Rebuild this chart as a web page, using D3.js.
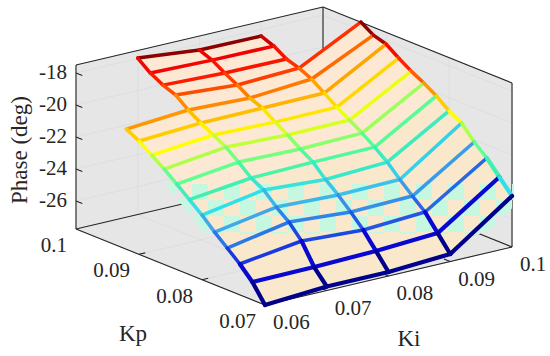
<!DOCTYPE html>
<html>
<head>
<meta charset="utf-8">
<script src="https://d3js.org/d3.v7.min.js"></script>
<style>
  body { margin: 0; background: #fff; }
  text { font-family: "Liberation Serif", serif; fill: #262626; }
</style>
</head>
<body>
<div class="chart"></div>
<script>
// phase (deg), one array per Ki, index = Kp row, null = no point
const kiValues = [0.06, 0.07, 0.08, 0.09, 0.1];
const kpValues = [0.07, 0.072, 0.074, 0.076, 0.078, 0.08, 0.082, 0.084, 0.086, 0.088, 0.09, 0.092, 0.094, 0.096, 0.098, 0.1];
const phaseKi06 = [-27.75, -26.63, -25.82, -25.14, -24.46, -23.71, -23.06, -22.41, -21.79, -21.23, -20.67, -20.24, null, null, null, null];
const phaseKi07 = [-27.5, -26.6, -25.29, -24.42, -23.8, -23.05, -22.62, -21.94, -21.32, -20.88, -20.45, -19.95, -19.33, -19.03, -18.59, -17.97];
const phaseKi08 = [-27.5, -26.5, -25.51, -24.7, -23.95, -23.3, -22.53, -22.03, -21.47, -20.98, -20.42, -20.11, -19.61, -19.18, -18.69, -18.38];
const phaseKi09 = [-27.28, -26.29, -25.29, -24.61, -23.89, -23.12, -22.5, -21.94, -21.44, -20.95, -20.39, -19.83, -19.46, -19.21, -18.72, -18.41];
const phaseKi10 = [-24.56, -23.69, -22.82, -22.14, -21.27, -20.83, -20.21, -19.72, -19.29, -18.79, -18.23, -17.99, -17.49, null, null, null];
const phase = [phaseKi06, phaseKi07, phaseKi08, phaseKi09, phaseKi10];

const kiTicks = [0.06, 0.07, 0.08, 0.09, 0.1];
const kpTicks = [0.07, 0.08, 0.09, 0.1];
const phaseTicks = [-26, -24, -22, -20, -18];

const w = 550, h = 356;
const svg = d3.select(".chart").append("svg").attr("width", w).attr("height", h).style("display", "block");

// oblique box: each data axis moves the point along its own screen direction
const kiX = d3.scaleLinear().domain([0.06, 0.1]).range([0, 247]);
const kiY = d3.scaleLinear().domain([0.06, 0.1]).range([0, -58]);
const kpX = d3.scaleLinear().domain([0.07, 0.1]).range([0, -189]);
const kpY = d3.scaleLinear().domain([0.07, 0.1]).range([0, -76]);
const zY = d3.scaleLinear().domain([-27.75, -17.5]).range([0, -164]);

const project = (ki, kp, z) => [265 + kiX(ki) + kpX(kp), 305 + kiY(ki) + kpY(kp) + zY(z)];
const zMin = -27.75, zMax = -17.5;

const line = d3.line();
const poly = pts => line(pts) + "Z";

// colour follows the Kp row, drifting a little with Ki (not on the two lowest rows)
const kpColor = d3.scaleLinear()
  .domain([0.07, 0.072, 0.074, 0.076, 0.078, 0.08, 0.082, 0.084, 0.088, 0.092, 0.096, 0.099, 0.1005])
  .range(["#00008c", "#0808d0", "#1838e0", "#2878e8", "#40a8e8", "#30e0e8", "#40f0b0", "#60ff90", "#ffff00", "#ff9800", "#ff2000", "#f00000", "#8c0000"])
  .clamp(true);
const edgeColor = (ki, kp) => kpColor(kp < 0.073 ? kp : kp + (ki - 0.06) * 0.05);

// jpeg-like block tint over the lower middle of the picture
const defs = svg.append("defs");
const blocks = defs.append("pattern")
  .attr("id", "blocks")
  .attr("patternUnits", "userSpaceOnUse")
  .attr("x", 0).attr("y", 24)
  .attr("width", 32).attr("height", 32);
blocks.selectAll("rect")
  .data([[0, 0], [16, 16]])
  .enter()
  .append("rect")
  .attr("x", d => d[0]).attr("y", d => d[1])
  .attr("width", 16).attr("height", 16)
  .attr("fill", "#c6f7e0");
defs.append("clipPath").attr("id", "blockBand")
  .append("rect").attr("x", 0).attr("y", 184).attr("width", 514).attr("height", 50);

// walls and floor
const corners = {
  floor: [[0.06, 0.07], [0.1, 0.07], [0.1, 0.1], [0.06, 0.1]].map(d => project(d[0], d[1], zMin)),
  left: [[0.06, zMin], [0.1, zMin], [0.1, zMax], [0.06, zMax]].map(d => project(d[0], 0.1, d[1])),
  right: [[0.07, zMin], [0.1, zMin], [0.1, zMax], [0.07, zMax]].map(d => project(0.1, d[0], d[1]))
};
svg.selectAll("path.wall")
  .data(Object.values(corners))
  .enter()
  .append("path")
  .attr("class", "wall")
  .attr("d", poly)
  .attr("fill", "#e6e6e6")
  .attr("stroke", "#e6e6e6");

// grid lines on the walls
const gridSegs = [];
kiTicks.forEach(k => {
  gridSegs.push([project(k, 0.07, zMin), project(k, 0.1, zMin)]);
  gridSegs.push([project(k, 0.1, zMin), project(k, 0.1, zMax)]);
});
kpTicks.forEach(k => {
  gridSegs.push([project(0.06, k, zMin), project(0.1, k, zMin)]);
  gridSegs.push([project(0.1, k, zMin), project(0.1, k, zMax)]);
});
phaseTicks.forEach(z => {
  gridSegs.push([project(0.06, 0.1, z), project(0.1, 0.1, z)]);
  gridSegs.push([project(0.1, 0.1, z), project(0.1, 0.07, z)]);
});
svg.selectAll("path.grid")
  .data(gridSegs)
  .enter()
  .append("path")
  .attr("class", "grid")
  .attr("d", line)
  .attr("fill", "none")
  .attr("stroke", "#dcdcdc")
  .attr("stroke-width", 0.8);

// back box lines, drawn before the surface covers them
const boxSegs = [
  [project(0.06, 0.1, zMin), project(0.1, 0.1, zMin)],
  [project(0.1, 0.1, zMin), project(0.1, 0.07, zMin)],
  [project(0.1, 0.1, zMin), project(0.1, 0.1, zMax)],
  [project(0.06, 0.1, zMax), project(0.1, 0.1, zMax)],
  [project(0.1, 0.1, zMax), project(0.1, 0.07, zMax)],
  [project(0.1, 0.07, zMax), project(0.1, 0.07, zMin)],
  [project(0.06, 0.1, zMax), project(0.06, 0.1, zMin)],
  [project(0.06, 0.1, zMin), project(0.06, 0.07, zMin)],
  [project(0.06, 0.07, zMin), project(0.1, 0.07, zMin)]
];
svg.selectAll("path.box")
  .data(boxSegs)
  .enter()
  .append("path")
  .attr("class", "box")
  .attr("d", line)
  .attr("fill", "none")
  .attr("stroke", "#262626")
  .attr("stroke-width", 1.1);

// ticks
const tickSegs = [];
phaseTicks.forEach(z => {
  tickSegs.push([project(0.06, 0.1, z), project(0.06, 0.099, z)]);
});
kpTicks.slice(1, 3).forEach(k => {
  tickSegs.push([project(0.06, k, zMin), project(0.061, k, zMin)]);
});
kiTicks.slice(1, 4).forEach(k => {
  tickSegs.push([project(k, 0.07, zMin), project(k, 0.071, zMin)]);
});
svg.selectAll("path.tick")
  .data(tickSegs)
  .enter()
  .append("path")
  .attr("class", "tick")
  .attr("d", line)
  .attr("fill", "none")
  .attr("stroke", "#262626")
  .attr("stroke-width", 1.1);

// surface faces and mesh edges, back to front
const faces = [];
const edges = [];
for (let r = kpValues.length - 1; r >= 0; r--) {
  for (let c = kiValues.length - 1; c >= 0; c--) {
    const p = (cc, rr) => project(kiValues[cc], kpValues[rr], phase[cc][rr]);
    const has = (cc, rr) => cc < kiValues.length && rr < kpValues.length && phase[cc][rr] !== null;
    if (!has(c, r)) continue;
    if (has(c + 1, r) && has(c, r + 1) && has(c + 1, r + 1)) {
      faces.push({ pts: [p(c, r), p(c + 1, r), p(c + 1, r + 1), p(c, r + 1)], r: r });
    }
    if (has(c + 1, r)) {
      edges.push({ pts: [p(c, r), p(c + 1, r)], color: edgeColor(kiValues[c], kpValues[r]), r: r });
    }
    if (has(c, r + 1)) {
      // the far right edge runs ahead of the other columns in the colour map
      const color = c === kiValues.length - 1 ? kpColor(kpValues[r] + 0.01) : edgeColor(kiValues[c], kpValues[r]);
      edges.push({ pts: [p(c, r), p(c, r + 1)], color: color, r: r });
    }
  }
}

svg.selectAll("path.face")
  .data(faces)
  .enter()
  .append("path")
  .attr("class", "face")
  .attr("d", d => poly(d.pts))
  .attr("fill", d => (d.r < 6 ? "#f9e8cb" : "#fde9d3"))
  .attr("stroke", d => (d.r < 6 ? "#f9e8cb" : "#fde9d3"))
  .attr("stroke-width", 0.5);

svg.append("g")
  .attr("clip-path", "url(#blockBand)")
  .selectAll("path")
  .data(faces)
  .enter()
  .append("path")
  .attr("d", d => poly(d.pts))
  .attr("fill", "url(#blocks)")
  .attr("stroke", "url(#blocks)")
  .attr("stroke-width", 18);

svg.selectAll("path.edge")
  .data(edges)
  .enter()
  .append("path")
  .attr("class", "edge")
  .attr("d", d => line(d.pts))
  .attr("fill", "none")
  .attr("stroke", d => d.color)
  .attr("stroke-width", d => (d.r < 2 ? 4.2 : 3.5))
  .attr("stroke-linecap", "round");

// tick labels
svg.selectAll("text.zlab")
  .data(phaseTicks)
  .enter()
  .append("text")
  .attr("class", "zlab")
  .attr("x", 67)
  .attr("y", d => project(0.06, 0.1, d)[1] + 6)
  .attr("text-anchor", "end")
  .attr("font-size", 21)
  .text(d => "-" + Math.abs(d));

svg.selectAll("text.kplab")
  .data(kpTicks)
  .enter()
  .append("text")
  .attr("class", "kplab")
  .attr("x", d => project(0.06, d, zMin)[0] - 9)
  .attr("y", d => project(0.06, d, zMin)[1] + 23)
  .attr("text-anchor", "end")
  .attr("font-size", 21)
  .text(d => d);

svg.selectAll("text.kilab")
  .data(kiTicks)
  .enter()
  .append("text")
  .attr("class", "kilab")
  .attr("x", d => project(d, 0.07, zMin)[0] + 8)
  .attr("y", d => project(d, 0.07, zMin)[1] + 24)
  .attr("text-anchor", "start")
  .attr("font-size", 21)
  .text(d => d);

// axis titles
svg.append("text")
  .attr("transform", "translate(27,150) rotate(-90)")
  .attr("text-anchor", "middle")
  .attr("font-size", 23)
  .text("Phase (deg)");
svg.append("text").attr("x", 133).attr("y", 341).attr("text-anchor", "middle").attr("font-size", 23).text("Kp");
svg.append("text").attr("x", 409).attr("y", 346).attr("text-anchor", "middle").attr("font-size", 23).text("Ki");
</script>
</body>
</html>
